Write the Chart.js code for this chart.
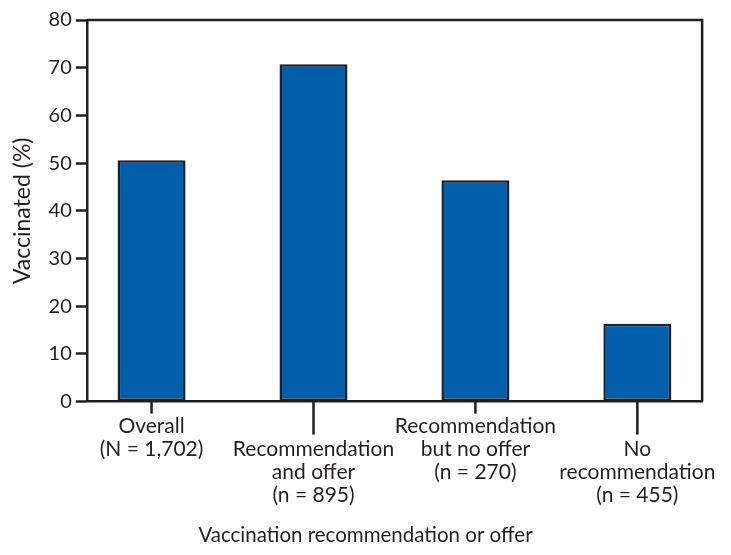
<!DOCTYPE html>
<html>
<head>
<meta charset="utf-8">
<script src="https://cdn.jsdelivr.net/npm/chart.js@4/dist/chart.umd.min.js"></script>
<style>
html,body{margin:0;padding:0;background:#fff;}
#wrap{width:731px;height:555px;}
</style>
</head>
<body>
<div id="wrap"><canvas id="c" width="731" height="555"></canvas></div>
<script>
const categories = [
  ["Overall", "(N = 1,702)"],
  ["", "Recommendation", "and offer", "(n = 895)"],
  ["Recommendation", "but no offer", "(n = 270)"],
  ["", "No", "recommendation", "(n = 455)"]
];
const vaccinated = [50.6, 70.7, 46.4, 16.3];
const yTicks = [0, 10, 20, 30, 40, 50, 60, 70, 80];
const xTitle = "Vaccination recommendation or offer";
const yTitle = "Vaccinated (%)";

const INK = "#231f20";
const FONT = "Lato, 'Open Sans', sans-serif";

const frameAndTicks = {
  id: "frameAndTicks",
  afterDatasetsDraw(chart) {
    const ctx = chart.ctx;
    const a = chart.chartArea;
    const xs = chart.scales.x;
    ctx.save();
    ctx.strokeStyle = INK;
    ctx.lineWidth = 2.5;
    ctx.beginPath();
    ctx.moveTo(a.left, a.top);
    ctx.lineTo(a.right, a.top);
    ctx.lineTo(a.right, a.bottom);
    ctx.stroke();
    categories.forEach((c, i) => {
      const px = xs.getPixelForValue(i);
      const len = c[0] === "" ? 33 : 12;
      ctx.beginPath();
      ctx.moveTo(px, a.bottom);
      ctx.lineTo(px, a.bottom + len);
      ctx.stroke();
    });
    // x-axis title, centred on the whole figure as in the reference
    ctx.fillStyle = INK;
    ctx.font = "20.5px " + FONT;
    ctx.textAlign = "center";
    ctx.textBaseline = "alphabetic";
    ctx.fillText(xTitle, chart.width / 2, 542);
    ctx.restore();
  }
};

new Chart(document.getElementById("c"), {
  type: "bar",
  data: {
    datasets: [{
      data: vaccinated.map((v, i) => ({ x: i, y: v })),
      backgroundColor: "#005eab",
      borderColor: INK,
      borderWidth: 2.5,
      borderSkipped: false,
      categoryPercentage: 1,
      barPercentage: 0.42
    }]
  },
  options: {
    responsive: false,
    animation: false,
    events: [],
    layout: { padding: { top: 20, right: 25, bottom: 35, left: 9 } },
    plugins: { legend: { display: false }, tooltip: { enabled: false } },
    scales: {
      x: {
        type: "linear",
        offset: false,
        min: -0.4,
        max: 3.4,
        afterBuildTicks(scale) {
          scale.ticks = categories.map((c, i) => ({ value: i }));
        },
        grid: { display: true, offset: false, drawOnChartArea: false, drawTicks: false },
        border: { display: true, color: INK, width: 2.5 },
        ticks: {
          autoSkip: false,
          maxRotation: 0,
          padding: 13,
          color: INK,
          font: { family: FONT, size: 21, lineHeight: 1.1 },
          callback: (v) => categories[v]
        },
        title: { display: false }
      },
      y: {
        min: 0,
        max: 80,
        afterBuildTicks(scale) {
          scale.ticks = yTicks.map(v => ({ value: v }));
        },
        grid: { drawOnChartArea: false, drawTicks: true, tickLength: 11, tickColor: INK, tickWidth: 2.5 },
        border: { display: true, color: INK, width: 2.5 },
        ticks: {
          padding: 4,
          color: INK,
          font: { family: FONT, size: 20 }
        },
        title: {
          display: true,
          text: yTitle,
          color: INK,
          font: { family: FONT, size: 23 },
          padding: { top: 0, bottom: 8 }
        }
      }
    }
  },
  plugins: [frameAndTicks]
});
</script>
</body>
</html>
